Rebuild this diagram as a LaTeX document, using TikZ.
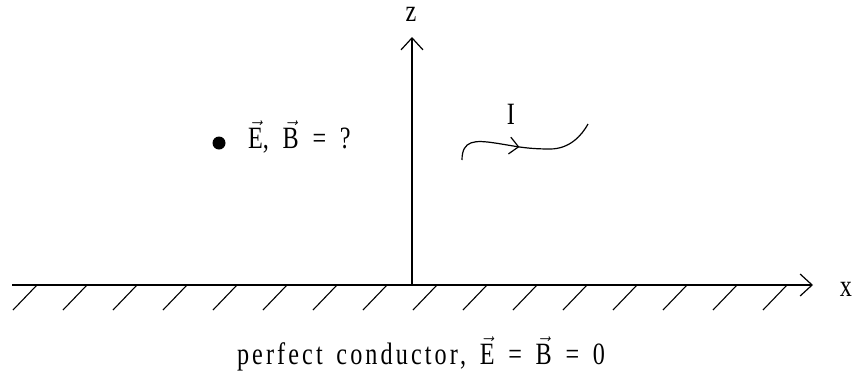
\documentclass[tikz,border=0pt]{standalone}
\usepackage{fontspec}
\setmainfont{Liberation Serif}[FakeStretch=0.78,LetterSpace=10,WordSpace=1.5]
\usetikzlibrary{arrows.meta,decorations.markings}
\newcommand{\fieldvec}[1]{$\vec{\mbox{#1}}$}

\begin{document}
\begin{tikzpicture}[x=1pt,y=-1pt,
    axis/.style={line width=1.2pt, -{Straight Barb[length=12pt,width=22pt,line width=1.2pt]}},
    hatch/.style={line width=1.1pt},
    lbl/.style={font=\fontsize{31}{36}\selectfont, inner sep=0pt}]
    \useasboundingbox (0,0) rectangle (854,381);

    % axes
    \coordinate (O) at (412,285);
    \coordinate (xstart) at (12,285);
    \coordinate (xend) at (813,285);
    \coordinate (zend) at (412,37);
    \draw[line width=1.2pt] (xstart) -- (O);
    \draw[axis] (O) -- (xend);
    \draw[axis] (O) -- (zend);
    \node[lbl, anchor=base] (zlabel) at (411,21) {z};
    \node[lbl, anchor=base] (xlabel) at (846,296) {x};

    % conductor surface
    \foreach \hx in {37,87,...,787}
      \draw[hatch] (\hx,285) -- ++(-24,25);
    \node[lbl, anchor=base] (conductor) at (421,364)
      {perfect conductor, \fieldvec{E} = \fieldvec{B} = 0};

    % field point
    \node[circle, fill=black, minimum size=13pt, inner sep=0pt] (point) at (219,143) {};
    \node[lbl, anchor=base west] (fields) at (248,148) {\fieldvec{E}, \fieldvec{B} = ?};

    % current
    \node[lbl] (current) at (511,114) {I};
    \coordinate (cstart) at (462,160);
    \coordinate (cend) at (588,124);
    \draw[line width=1.2pt, decoration={markings,
        mark=at position 0.47 with {\arrow{Straight Barb[length=9pt,width=17pt,line width=1.2pt]}}},
        postaction=decorate]
      (cstart) .. controls (462,140) and (475,140) .. (495,143)
      .. controls (515,146) and (525,149) .. (550,149)
      .. controls (570,149) and (582,135) .. (cend);
\end{tikzpicture}
\end{document}
